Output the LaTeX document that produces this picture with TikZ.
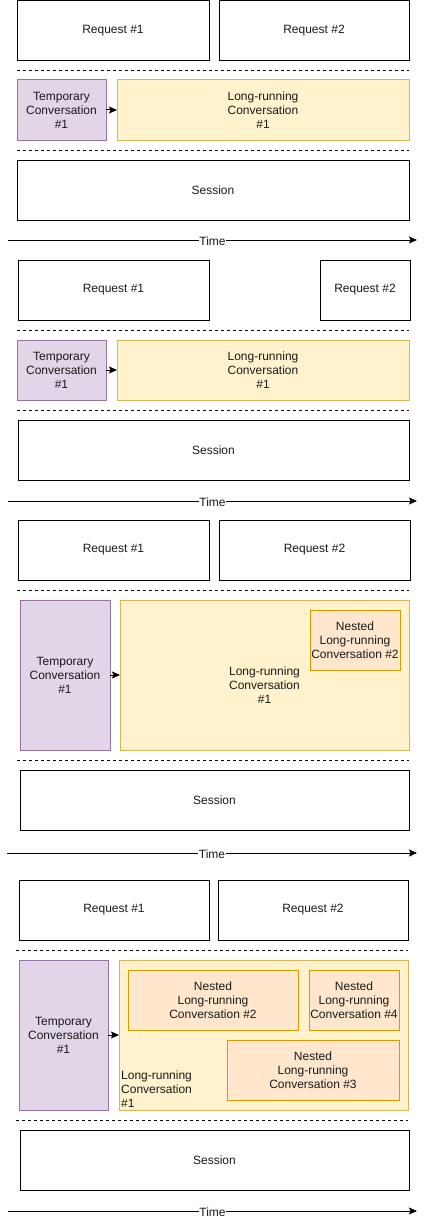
\documentclass[tikz,border=0pt]{standalone}
\usepackage{fontspec}
\setmainfont{Liberation Sans}
\usetikzlibrary{positioning,arrows.meta}
\definecolor{tmpFill}{HTML}{E1D5E7}
\definecolor{tmpLine}{HTML}{9673A6}
\definecolor{lrFill}{HTML}{FFF2CC}
\definecolor{lrLine}{HTML}{D6B656}
\definecolor{nestFill}{HTML}{FFE6CC}
\definecolor{nestLine}{HTML}{D79B00}
\definecolor{ink}{HTML}{1A1A1A}
\tikzset{
  box/.style={anchor=north west, inner sep=0pt, outer sep=0pt, line width=1pt, align=center,
    text=ink, font=\fontsize{12pt}{14pt}\selectfont},
  reqbox/.style={box, draw=black, fill=white},
  tmpbox/.style={box, draw=tmpLine, fill=tmpFill},
  lrbox/.style={box, draw=lrLine, fill=lrFill},
  nestbox/.style={box, draw=nestLine, fill=nestFill},
  sepline/.style={line width=0.8pt, dash pattern=on 3pt off 3pt},
  flow/.style={line width=1pt, -{Stealth[length=8pt,width=7pt,inset=1.5pt]}},
  timelbl/.style={fill=white, inner sep=0.5pt, yshift=-1pt, text=ink, font=\fontsize{12pt}{14pt}\selectfont}
}
\begin{document}
\begin{tikzpicture}[x=1pt, y=-1pt]
\useasboundingbox (0,0) rectangle (427,1220);

% panel 1
\node[reqbox, minimum width=192, minimum height=60] (req11) at (17,0.5) {Request \#1};
\node[reqbox, minimum width=190, minimum height=60] (req12) at (219,0.5) {Request \#2};
\node[tmpbox, minimum width=89, minimum height=60] (tmp1) at (17,80) {Temporary\\Conversation\\\#1};
\node[lrbox, minimum width=292, minimum height=60] (lrc1) at (117,80) {Long-running\\Conversation\\\#1};
\node[reqbox, minimum width=392, minimum height=60] (ses1) at (17,160) {Session};
\draw[flow] (tmp1) -- (lrc1);

% panel 2
\node[reqbox, minimum width=191, minimum height=60] (req21) at (18,260) {Request \#1};
\node[reqbox, minimum width=90, minimum height=60] (req22) at (320,260) {Request \#2};
\node[tmpbox, minimum width=89, minimum height=60] (tmp2) at (17,340) {Temporary\\Conversation\\\#1};
\node[lrbox, minimum width=292, minimum height=60] (lrc2) at (117,340) {Long-running\\Conversation\\\#1};
\node[reqbox, minimum width=391, minimum height=60] (ses2) at (18,420) {Session};
\draw[flow] (tmp2) -- (lrc2);

% panel 3
\node[reqbox, minimum width=191, minimum height=60] (req31) at (18,520) {Request \#1};
\node[reqbox, minimum width=191, minimum height=60] (req32) at (219,520) {Request \#2};
\node[tmpbox, minimum width=90, minimum height=150] (tmp3) at (20,600) {Temporary\\Conversation\\\#1};
\node[lrbox, minimum width=289, minimum height=150,
  label={[align=center, text=ink, font=\fontsize{12pt}{14pt}\selectfont, yshift=-10pt]center:Long-running\\Conversation\\\#1}] (lrc3) at (120,600) {};
\node[nestbox, minimum width=90, minimum height=60] (nst32) at (310,610) {Nested\\Long-running\\Conversation \#2};
\node[reqbox, minimum width=389, minimum height=60] (ses3) at (20,770) {Session};
\draw[flow] (tmp3) -- (lrc3);

% panel 4
\node[reqbox, minimum width=190, minimum height=60] (req41) at (19,880) {Request \#1};
\node[reqbox, minimum width=190, minimum height=60] (req42) at (218,880) {Request \#2};
\node[tmpbox, minimum width=89, minimum height=150] (tmp4) at (19,960) {Temporary\\Conversation\\\#1};
\node[lrbox, minimum width=289, minimum height=150,
  label={[anchor=south west, align=left, inner sep=2pt, text=ink, font=\fontsize{12pt}{14pt}\selectfont]south west:Long-running\\Conversation\\\#1}] (lrc4) at (119,960) {};
\node[nestbox, minimum width=170, minimum height=60] (nst42) at (128,970) {Nested\\Long-running\\Conversation \#2};
\node[nestbox, minimum width=90, minimum height=60] (nst44) at (309,970) {Nested\\Long-running\\Conversation \#4};
\node[nestbox, minimum width=172, minimum height=60] (nst43) at (227,1040) {Nested\\Long-running\\Conversation \#3};
\node[reqbox, minimum width=389, minimum height=60] (ses4) at (20,1130) {Session};
\draw[flow] (tmp4) -- (lrc4);

% dashed separators
\foreach \n/\y/\a/\b in {s11/70/17/409, s12/150/17/409, s21/330/17/409, s22/410/17/409,
                         s31/590/17/409, s32/760/17/409, s41/950/16/408, s42/1120/16/408} {
  \coordinate (\n a) at (\a,\y);
  \coordinate (\n b) at (\b,\y);
  \draw[sepline] (\n a) -- (\n b);
}

% time axes
\foreach \n/\y/\a in {t1/240/8, t2/501/8, t3/853/7, t4/1211/8} {
  \coordinate (\n a) at (\a,\y);
  \coordinate (\n b) at (417,\y);
  \draw[flow] (\n a) -- node[timelbl] {Time} (\n b);
}
\end{tikzpicture}
\end{document}
